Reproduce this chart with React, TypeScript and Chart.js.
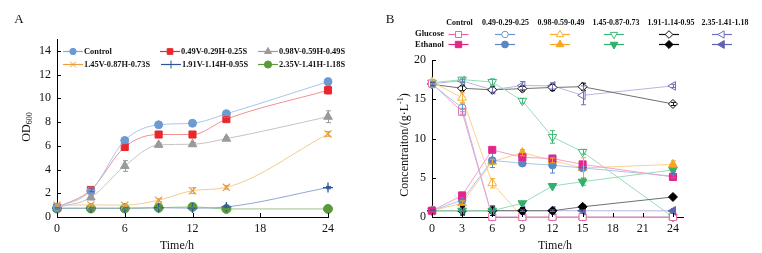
import React, { useEffect, useRef } from 'react';
import { Chart, registerables } from 'chart.js';
import { drawPoint } from 'chart.js/helpers';
Chart.register(...registerables);

const FONT = '"Liberation Serif", "Times New Roman", serif';

// ---------- shared ----------
const times = [0, 3, 6, 9, 12, 15, 24];

// ---------- Panel A : OD600 ----------
const seriesNamesA = ['Control', '0.49V-0.29H-0.25S', '0.98V-0.59H-0.49S', '1.45V-0.87H-0.73S', '1.91V-1.14H-0.95S', '2.35V-1.41H-1.18S'];
const odControl = [0.8, 2.2, 6.45, 7.77, 7.9, 8.7, 11.4];
const od049 = [0.8, 2.28, 5.9, 6.95, 6.95, 8.25, 10.68];
const od098 = [0.8, 1.65, 4.3, 6.08, 6.13, 6.6, 8.45];
const od145 = [1.0, 1.02, 1.0, 1.42, 2.22, 2.5, 7.0];
const od191 = [0.75, 0.75, 0.75, 0.78, 0.75, 0.85, 2.48];
const od235 = [0.72, 0.72, 0.72, 0.78, 0.85, 0.68, 0.68];
const errOdControl = [0.1, 0.12, 0.2, 0.15, 0.15, 0.28, 0.3];
const errOd049 = [0.1, 0.15, 0.22, 0.15, 0.15, 0.2, 0.3];
const errOd098 = [0.1, 0.2, 0.45, 0.15, 0.15, 0.15, 0.5];
const errOd145 = [0.08, 0.08, 0.08, 0.12, 0.25, 0.15, 0.2];
const errOd191 = [0.05, 0.05, 0.05, 0.05, 0.05, 0.08, 0.1];
const errOd235 = [0.05, 0.05, 0.05, 0.05, 0.08, 0.05, 0.05];

// ---------- Panel B : glucose / ethanol ----------
const seriesNamesB = ['Control', '0.49-0.29-0.25', '0.98-0.59-0.49', '1.45-0.87-0.73', '1.91-1.14-0.95', '2.35-1.41-1.18'];
const gluControl = [17.0, 13.4, 0, 0, 0, 0, 0];
const glu049 = [16.9, 13.9, 0, 0, 0, 0, 0];
const glu098 = [17.2, 15.2, 4.3, 0, 0, 0, 0];
const glu145 = [17.1, 17.5, 17.2, 14.8, 10.2, 8.3, 0];
const glu191 = [16.9, 16.4, 16.2, 16.35, 16.5, 16.6, 14.4];
const glu235 = [17.0, 17.35, 16.2, 16.75, 16.7, 15.5, 16.7];
const ethControl = [0.8, 2.75, 8.55, 7.6, 7.45, 6.7, 5.1];
const eth049 = [0.8, 2.16, 7.2, 6.85, 6.6, 6.25, 5.2];
const eth098 = [0.8, 1.75, 7.05, 8.2, 7.2, 6.25, 6.7];
const eth145 = [0.8, 0.8, 0.8, 1.75, 3.95, 4.5, 6.0];
const eth191 = [0.8, 0.8, 0.8, 0.8, 0.8, 1.3, 2.55];
const eth235 = [0.8, 0.8, 0.8, 0.8, 0.8, 0.8, 0.78];
const errGluControl = [0.2, 0.3, 0, 0, 0, 0, 0];
const errGlu049 = [0.2, 0.5, 0, 0, 0, 0, 0];
const errGlu098 = [0.3, 0.6, 0.6, 0, 0, 0, 0];
const errGlu145 = [0.2, 0.2, 0.4, 0.3, 0.8, 0.3, 0];
const errGlu191 = [0.2, 0.3, 0.35, 0.3, 0.4, 0.45, 0.2];
const errGlu235 = [0.2, 0.2, 0.3, 0.5, 0.4, 1.2, 0.2];
const errEthControl = [0.1, 0.2, 0.1, 0.2, 0.3, 0.3, 0.2];
const errEth049 = [0.1, 0.3, 0.9, 0.2, 1.0, 0.2, 0.2];
const errEth098 = [0.1, 0.3, 0.3, 0.4, 0.3, 1.3, 0.45];
const errEth145 = [0.1, 0.1, 0.1, 0.1, 0.15, 0.45, 0.2];
const errEth191 = [0.1, 0.55, 0.6, 0.4, 0.2, 0.2, 0.2];
const errEth235 = [0.1, 0.1, 0.1, 0.1, 0.1, 0.1, 0.3];

const toPts = (ys: number[]) => times.map((t, i) => ({ x: t, y: ys[i] }));

// ---------- plugins ----------
const errorBarPlugin = {
  id: 'errorBars',
  afterDatasetsDraw(chart: any) {
    const ctx = chart.ctx;
    const xs = chart.scales.x, ys = chart.scales.y;
    chart.data.datasets.forEach((ds: any) => {
      if (!ds.errors) return;
      ctx.save();
      ctx.strokeStyle = ds.errorColor;
      ctx.lineWidth = 1;
      ds.data.forEach((p: any, i: number) => {
        const e = ds.errors[i];
        if (!e) return;
        const px = Math.round(xs.getPixelForValue(p.x)) + 0.5;
        const y1 = ys.getPixelForValue(p.y + e);
        const y2 = ys.getPixelForValue(Math.max(0, p.y - e));
        ctx.beginPath();
        ctx.moveTo(px, y1); ctx.lineTo(px, y2);
        ctx.moveTo(px - 2.5, y1); ctx.lineTo(px + 2.5, y1);
        ctx.moveTo(px - 2.5, y2); ctx.lineTo(px + 2.5, y2);
        ctx.stroke();
      });
      ctx.restore();
    });
  },
};

const innerTicksPlugin = {
  id: 'innerTicks',
  afterDraw(chart: any) {
    const ctx = chart.ctx;
    const { x, y } = chart.scales;
    const area = chart.chartArea;
    ctx.save();
    ctx.strokeStyle = '#000';
    ctx.lineWidth = 1;
    ctx.beginPath();
    x.ticks.forEach((t: any) => {
      const px = Math.round(x.getPixelForValue(t.value)) + 0.5;
      ctx.moveTo(px, area.bottom); ctx.lineTo(px, area.bottom - 4);
    });
    y.ticks.forEach((t: any) => {
      const py = Math.round(y.getPixelForValue(t.value)) + 0.5;
      ctx.moveTo(area.left, py); ctx.lineTo(area.left + 4, py);
    });
    ctx.stroke();
    ctx.restore();
  },
};

function marker(ctx: any, style: string, rotation: number, radius: number, fill: string, stroke: string, x: number, y: number) {
  ctx.save();
  ctx.fillStyle = fill;
  ctx.strokeStyle = stroke;
  ctx.lineWidth = 1;
  drawPoint(ctx, { pointStyle: style, rotation, radius, borderWidth: 1 } as any, x, y);
  ctx.restore();
}

function condensedText(ctx: any, text: string, x: number, y: number, sx: number) {
  ctx.save();
  ctx.translate(x, y);
  ctx.scale(sx, 1);
  ctx.fillText(text, 0, 0);
  ctx.restore();
}

// ---------- panel A styling ----------
const stylesA = [
  { marker: '#6b9bd2', line: '#a9c6ea', legendLine: '#7eaadc', style: 'circle', r: 4, rot: 0 },
  { marker: '#e8282e', line: '#f29090', legendLine: '#e8282e', style: 'rect', r: 5, rot: 0 },
  { marker: '#9a9a9a', line: '#c4c4c4', legendLine: '#9a9a9a', style: 'triangle', r: 5, rot: 0 },
  { marker: '#e8a040', line: '#f2cc90', legendLine: '#e8a040', style: 'crossRot', r: 5, rot: 0 },
  { marker: '#2f5597', line: '#8ea6d2', legendLine: '#2f5597', style: 'cross', r: 5, rot: 0 },
  { marker: '#5b9a3c', line: '#9cc58a', legendLine: '#5b9a3c', style: 'circle', r: 4.5, rot: 0 },
];
const valsA = [odControl, od049, od098, od145, od191, od235];
const errsA = [errOdControl, errOd049, errOd098, errOd145, errOd191, errOd235];

const legendAPos = [
  { x: 63, y: 51 }, { x: 160, y: 51 }, { x: 258, y: 51 },
  { x: 63, y: 64 }, { x: 161, y: 64 }, { x: 258, y: 64 },
];

const decorAPlugin = {
  id: 'decorA',
  afterDraw(chart: any) {
    const ctx = chart.ctx;
    ctx.save();
    seriesNamesA.forEach((name, i) => {
      const s = stylesA[i];
      const p = legendAPos[i];
      ctx.strokeStyle = s.legendLine;
      ctx.lineWidth = 1.2;
      ctx.beginPath();
      ctx.moveTo(p.x, p.y + 0.5); ctx.lineTo(p.x + 20, p.y + 0.5);
      ctx.stroke();
      marker(ctx, s.style, s.rot, s.r * 0.8, s.marker, s.marker, p.x + 10, p.y + 0.5);
      ctx.fillStyle = '#111';
      ctx.font = `bold 9px ${FONT}`;
      ctx.textAlign = 'left';
      ctx.textBaseline = 'middle';
      condensedText(ctx, name, p.x + 21, p.y + 1, 0.93);
    });
    ctx.fillStyle = '#111';
    ctx.font = `13px ${FONT}`;
    ctx.textAlign = 'center';
    ctx.textBaseline = 'middle';
    ctx.fillText('A', 19, 20);
    ctx.font = `12px ${FONT}`;
    ctx.fillText('Time/h', 177, 246);
    ctx.translate(27, 127);
    ctx.rotate(-Math.PI / 2);
    ctx.font = `12px ${FONT}`;
    const w1 = ctx.measureText('OD').width;
    ctx.font = `8px ${FONT}`;
    const w2 = ctx.measureText('600').width;
    const start = -(w1 + w2) / 2;
    ctx.textAlign = 'left';
    ctx.font = `12px ${FONT}`;
    ctx.fillText('OD', start, 0);
    ctx.font = `8px ${FONT}`;
    ctx.fillText('600', start + w1, 3);
    ctx.restore();
  },
};

// ---------- panel B styling ----------
const stylesB = [
  { strong: '#e3268a', light: '#e66aa8', line: '#f4a0cb', style: 'rect', r: 5, rot: 0 },
  { strong: '#5b87c5', light: '#6f98cf', line: '#a9c6e9', style: 'circle', r: 3.8, rot: 0 },
  { strong: '#f5a623', light: '#f5ae3a', line: '#f9d090', style: 'triangle', r: 5, rot: 0 },
  { strong: '#30b06c', light: '#3fb878', line: '#9adbb8', style: 'triangle', r: 5, rot: 180 },
  { strong: '#000000', light: '#111111', line: '#707070', style: 'rectRot', r: 4.5, rot: 0 },
  { strong: '#6262b2', light: '#7070bc', line: '#b6b6e2', style: 'triangle', r: 5, rot: -90 },
];
const gluB = [gluControl, glu049, glu098, glu145, glu191, glu235];
const ethB = [ethControl, eth049, eth098, eth145, eth191, eth235];
const errGluB = [errGluControl, errGlu049, errGlu098, errGlu145, errGlu191, errGlu235];
const errEthB = [errEthControl, errEth049, errEth098, errEth145, errEth191, errEth235];
const legendBCenters = [458.5, 505, 560, 614, 669, 722];
const headerBCenters = [459.5, 505.5, 561, 616, 671, 725];
const OXB = 380;

const decorBPlugin = {
  id: 'decorB',
  afterDraw(chart: any) {
    const ctx = chart.ctx;
    ctx.save();
    ctx.fillStyle = '#111';
    ctx.textBaseline = 'middle';
    ctx.font = `bold 9px ${FONT}`;
    ctx.textAlign = 'center';
    seriesNamesB.forEach((n, i) => condensedText(ctx, n, headerBCenters[i] - OXB, 22.5, 0.88));
    ctx.textAlign = 'right';
    condensedText(ctx, 'Glucose', 444 - OXB, 34, 0.95);
    condensedText(ctx, 'Ethanol', 444 - OXB, 44.5, 0.95);
    seriesNamesB.forEach((_, i) => {
      const s = stylesB[i];
      const cx = legendBCenters[i] - OXB;
      ctx.strokeStyle = s.light;
      ctx.lineWidth = 1.2;
      ctx.beginPath(); ctx.moveTo(cx - 10, 34.5); ctx.lineTo(cx + 10, 34.5); ctx.stroke();
      marker(ctx, s.style, s.rot, s.r * 0.85, '#ffffff', s.light, cx, 34.5);
      ctx.strokeStyle = s.strong;
      ctx.beginPath(); ctx.moveTo(cx - 10, 44.5); ctx.lineTo(cx + 10, 44.5); ctx.stroke();
      marker(ctx, s.style, s.rot, s.r * 0.9, s.strong, s.strong, cx, 44.5);
    });
    ctx.fillStyle = '#111';
    ctx.font = `13px ${FONT}`;
    ctx.textAlign = 'center';
    ctx.fillText('B', 390 - OXB, 20);
    ctx.font = `12px ${FONT}`;
    ctx.fillText('Time/h', 555 - OXB, 246);
    ctx.translate(405 - OXB, 145);
    ctx.rotate(-Math.PI / 2);
    const a = 'Concentraiton/(g·L', sup = '-1', b = ')';
    ctx.font = `12px ${FONT}`;
    const wa = ctx.measureText(a).width, wb = ctx.measureText(b).width;
    ctx.font = `8px ${FONT}`;
    const ws = ctx.measureText(sup).width;
    const x0 = -(wa + ws + wb) / 2;
    ctx.textAlign = 'left';
    ctx.font = `12px ${FONT}`;
    ctx.fillText(a, x0, 0);
    ctx.font = `8px ${FONT}`;
    ctx.fillText(sup, x0 + wa, -4);
    ctx.font = `12px ${FONT}`;
    ctx.fillText(b, x0 + wa + ws, 0);
    ctx.restore();
  },
};

function axisCommon(min: number, max: number, step: number, isX: boolean, size: number) {
  return {
    type: 'linear',
    min, max,
    ticks: { stepSize: step, includeBounds: false, color: '#111', padding: isX ? 5 : 6, font: { family: FONT, size: 12 }, maxRotation: 0 },
    grid: { display: false, drawTicks: false },
    border: { display: true, color: '#000', width: 1 },
    afterFit: (s: any) => { if (isX) s.height = size; else s.width = size; },
  };
}

export default function App() {
  const refA = useRef<HTMLCanvasElement>(null);
  const refB = useRef<HTMLCanvasElement>(null);

  useEffect(() => {
    const dsA = valsA.map((v, i) => {
      const s = stylesA[i];
      return {
        label: seriesNamesA[i],
        data: toPts(v),
        borderColor: s.line,
        borderWidth: 1,
        backgroundColor: s.marker,
        pointBackgroundColor: s.marker,
        pointBorderColor: s.marker,
        pointBorderWidth: s.style === 'cross' || s.style === 'crossRot' ? 1.3 : 1,
        pointStyle: s.style,
        pointRadius: s.r,
        pointRotation: s.rot,
        cubicInterpolationMode: 'monotone',
        clip: false,
        errors: errsA[i],
        errorColor: s.marker,
      } as any;
    });
    const chartA = new Chart(refA.current!, {
      type: 'line',
      data: { datasets: dsA },
      options: {
        responsive: false,
        animation: false,
        devicePixelRatio: 1,
        layout: { padding: { left: 0, right: 52, top: 39, bottom: 0 } },
        plugins: { legend: { display: false }, tooltip: { enabled: false } },
        scales: {
          x: axisCommon(0, 24, 6, true, 36),
          y: axisCommon(0, 15, 2, false, 57),
        },
      } as any,
      plugins: [errorBarPlugin, innerTicksPlugin, decorAPlugin],
    });

    const dsB: any[] = [];
    ethB.forEach((v, i) => {
      const s = stylesB[i];
      dsB.push({
        label: seriesNamesB[i] + ' ethanol',
        data: toPts(v),
        borderColor: s.line,
        borderWidth: 1,
        pointBackgroundColor: s.strong,
        pointBorderColor: s.strong,
        pointBorderWidth: 1,
        pointStyle: s.style,
        pointRadius: s.r,
        pointRotation: s.rot,
        tension: 0,
        clip: false,
        errors: errEthB[i],
        errorColor: s.strong,
      });
    });
    gluB.forEach((v, i) => {
      const s = stylesB[i];
      dsB.push({
        label: seriesNamesB[i] + ' glucose',
        data: toPts(v),
        borderColor: s.line,
        borderWidth: 1,
        pointBackgroundColor: '#ffffff',
        pointBorderColor: s.light,
        pointBorderWidth: 1,
        pointStyle: s.style,
        pointRadius: s.r,
        pointRotation: s.rot,
        tension: 0,
        clip: false,
        errors: errGluB[i],
        errorColor: s.light,
      });
    });
    const chartB = new Chart(refB.current!, {
      type: 'line',
      data: { datasets: dsB },
      options: {
        responsive: false,
        animation: false,
        devicePixelRatio: 1,
        layout: { padding: { left: 0, right: 79, top: 60, bottom: 0 } },
        plugins: { legend: { display: false }, tooltip: { enabled: false } },
        scales: {
          x: axisCommon(0, 25, 3, true, 36),
          y: axisCommon(0, 20, 5, false, 52),
        },
      } as any,
      plugins: [errorBarPlugin, innerTicksPlugin, decorBPlugin],
    });

    return () => { chartA.destroy(); chartB.destroy(); };
  }, []);

  return (
    <div style={{ position: 'absolute', left: 0, top: 0, width: 762, height: 253, background: '#fff' }}>
      <canvas ref={refA} width={380} height={253} style={{ position: 'absolute', left: 0, top: 0, width: 380, height: 253 }} />
      <canvas ref={refB} width={382} height={253} style={{ position: 'absolute', left: 380, top: 0, width: 382, height: 253 }} />
    </div>
  );
}
